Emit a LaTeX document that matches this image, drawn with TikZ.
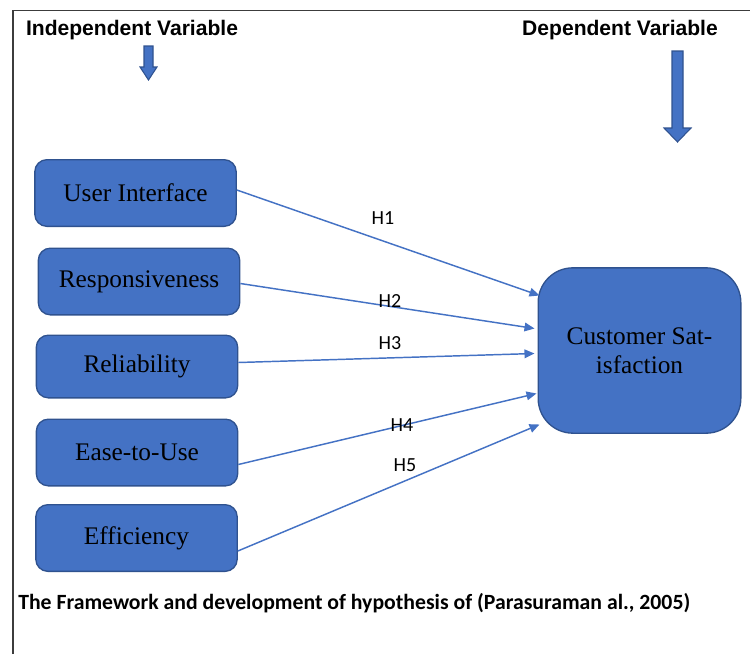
\documentclass[tikz,border=0pt]{standalone}
\usepackage{fontspec}
\setmainfont{Liberation Serif}
\newfontfamily\headfont{Liberation Sans}
\newfontfamily\hypfont{Carlito}
\usepackage{xcolor}
\usepackage{tikz}
\usetikzlibrary{positioning, calc, arrows.meta}
\definecolor{BoxBlue}{RGB}{68,114,196}
\definecolor{BoxLine}{RGB}{47,82,143}
\definecolor{FrameGray}{RGB}{60,60,60}
\tikzset{
    varbox/.style={
        draw=BoxLine, fill=BoxBlue, line width=1pt, rounded corners=9pt,
        minimum width=151pt, minimum height=50pt, align=center,
        font=\fontsize{19}{22}\selectfont
    },
    hyp/.style={
        -{Triangle[length=7.5pt, width=6.5pt]}, line width=1.1pt, BoxBlue
    },
    hyplabel/.style={
        font=\hypfont\fontsize{15}{17}\selectfont
    },
    headlabel/.style={
        font=\headfont\bfseries\fontsize{15.8}{18}\selectfont
    },
    blockarrow/.style={
        fill=BoxBlue, draw=BoxLine, line width=0.8pt
    }
}

\begin{document}
\begin{tikzpicture}[x=0.75pt, y=-0.75pt]
    \useasboundingbox (0,0) rectangle (750,654);
    \draw[FrameGray, line width=0.9pt] (13,654) -- (13,10.5) -- (750,10.5);

    % headings and the two block arrows
    \node[headlabel] (indep) at (132,30) {Independent Variable};
    \node[headlabel] (dep) at (620,30) {Dependent Variable};
    \draw[blockarrow] (144,46) -- (153,46) -- (153,67) -- (157,67) -- (148.5,80)
        -- (140,67) -- (144,67) -- cycle;
    \draw[blockarrow] (672,51) -- (683,51) -- (683,128) -- (691,128) -- (677.5,142)
        -- (664,128) -- (672,128) -- cycle;

    % independent variables
    \node[varbox] (ui) at (135.5,193) {User Interface};
    \node[varbox] (resp) at (139,281.5) {Responsiveness};
    \node[varbox, minimum height=47pt] (rel) at (137,366.5) {Reliability};
    \node[varbox] (ease) at (137,452.5) {Ease-to-Use};
    \node[varbox] (eff) at (136.5,538) {Efficiency};

    % dependent variable
    \node[varbox, rounded corners=26pt, minimum width=152pt, minimum height=124pt]
        (cs) at (639.5,350.5) {Customer Sat-\\isfaction};

    % hypotheses
    \draw[hyp] ($(ui.east)+(0,-3)$) -- ($(cs.west)+(2,-55)$);
    \draw[hyp] ($(resp.east)+(0,2)$) -- ($(cs.west)+(-3,-22)$);
    \draw[hyp] ($(rel.east)+(0,-4)$) -- ($(cs.west)+(-3,3)$);
    \draw[hyp] ($(ease.east)+(0,12)$) -- ($(cs.west)+(-1,43)$);
    \draw[hyp] ($(eff.east)+(0,13)$) -- ($(cs.west)+(2,74)$);

    \node[hyplabel] (h1) at (383,218) {H1};
    \node[hyplabel] (h2) at (390,301) {H2};
    \node[hyplabel] (h3) at (390,343) {H3};
    \node[hyplabel] (h4) at (402,425) {H4};
    \node[hyplabel] (h5) at (405,465) {H5};

    \node[anchor=west, inner sep=0pt, font=\hypfont\bfseries\fontsize{16.3}{19}\selectfont]
        (caption) at (18,603) {The Framework and development of hypothesis of (Parasuraman al., 2005)};
\end{tikzpicture}
\end{document}
